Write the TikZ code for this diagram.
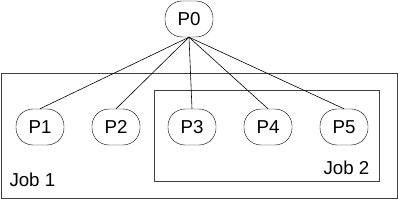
\documentclass[tikz,border=0pt]{standalone}
\usepackage{fontspec}
\setmainfont{Liberation Sans}
\usetikzlibrary{shapes,arrows,positioning}

\begin{document}
\begin{tikzpicture}[x=1pt, y=-1pt, node distance=76pt, font=\fontsize{18.7}{22}\selectfont]
    % Styles
    \tikzstyle{proc} = [rectangle, draw, rounded corners=17pt, minimum width=48pt, minimum height=36pt, inner sep=0pt]
    \tikzstyle{jobbox} = [draw=black!75, line width=0.8pt]
    \tikzstyle{joblabel} = [anchor=base west, inner sep=0pt]
    \tikzstyle{edge} = [line width=0.6pt]

    \useasboundingbox (0,0) rectangle (398,200);

    % Job boxes
    \draw [jobbox] (1,73) rectangle (397,198);
    \draw [jobbox] (154,90) rectangle (379,181);
    \node [joblabel] (job1) at (9.3,186.7) {Job 1};
    \node [joblabel] (job2) at (323.3,174) {Job 2};

    % Nodes
    \node [proc] (p0) at (189,19) {P0};
    \node [proc] (p1) at (40,127) {P1};
    \node [proc, right of=p1] (p2) {P2};
    \node [proc, right of=p2] (p3) {P3};
    \node [proc, right of=p3] (p4) {P4};
    \node [proc, right of=p4] (p5) {P5};

    % Edges
    \foreach \n in {p1,p2,p3,p4,p5}
        \draw [edge] (p0.south) -- (\n.north);
\end{tikzpicture}
\end{document}
